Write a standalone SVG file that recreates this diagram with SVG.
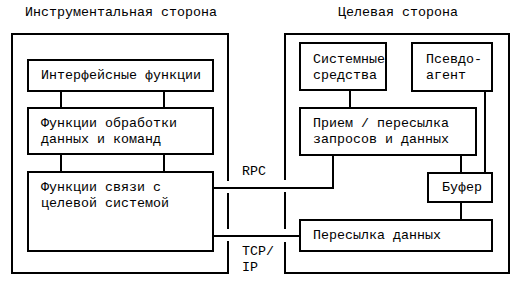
<svg xmlns="http://www.w3.org/2000/svg" width="522" height="289" viewBox="0 0 522 289">
<style>
.b{fill:#fff;stroke:#000;stroke-width:2}
.l{fill:none;stroke:#000;stroke-width:2}
text{font-family:"Liberation Mono","Courier New",monospace;font-size:13.33px;fill:#000}
</style>
<rect width="522" height="289" fill="#fff"/>
<g id="instr-side">
<path class="l" d="M228,181 V34 H12 V273 H228 V241 M228,229 V193"/>
<text x="25" y="16">Инструментальная сторона</text>
</g>
<g id="target-side">
<path class="l" d="M285,180 V34 H509 V273 H285 V242 M285,229 V192"/>
<text x="338" y="16">Целевая сторона</text>
</g>
<g id="connectors">
<path class="l" d="M61,91 V108 M164,91 V108 M61,154 V172 M164,154 V172"/>
<path class="l" d="M213,188 H333 V155 M213,236 H300"/>
<path class="l" d="M350,90 V108 M485,91 V173 M461,155 V173 M461,202 V220"/>
<text x="242" y="175">RPC</text>
<text x="242" y="255">TCP/</text>
<text x="242" y="271">IP</text>
</g>
<g id="interface">
<rect class="b" x="28" y="60" width="185" height="31"/>
<text x="41" y="79">Интерфейсные функции</text>
</g>
<g id="processing">
<rect class="b" x="28" y="108" width="185" height="46"/>
<text x="41" y="127">Функции обработки</text>
<text x="41" y="143">данных и команд</text>
</g>
<g id="comm">
<rect class="b" x="28" y="172" width="185" height="79"/>
<text x="41" y="191">Функции связи с</text>
<text x="41" y="207">целевой системой</text>
</g>
<g id="system">
<rect class="b" x="300" y="43" width="86" height="47"/>
<text x="313" y="63">Системные</text>
<text x="313" y="79">средства</text>
</g>
<g id="pseudo">
<rect class="b" x="412" y="43" width="80" height="48"/>
<text x="426" y="63">Псевдо-</text>
<text x="426" y="79">агент</text>
</g>
<g id="receive">
<rect class="b" x="300" y="108" width="176" height="47"/>
<text x="313" y="127">Прием / пересылка</text>
<text x="313" y="143">запросов и данных</text>
</g>
<g id="buffer">
<rect class="b" x="428" y="173" width="64" height="29"/>
<text x="442" y="191">Буфер</text>
</g>
<g id="transfer">
<rect class="b" x="300" y="220" width="192" height="31"/>
<text x="313" y="239">Пересылка данных</text>
</g>
</svg>
